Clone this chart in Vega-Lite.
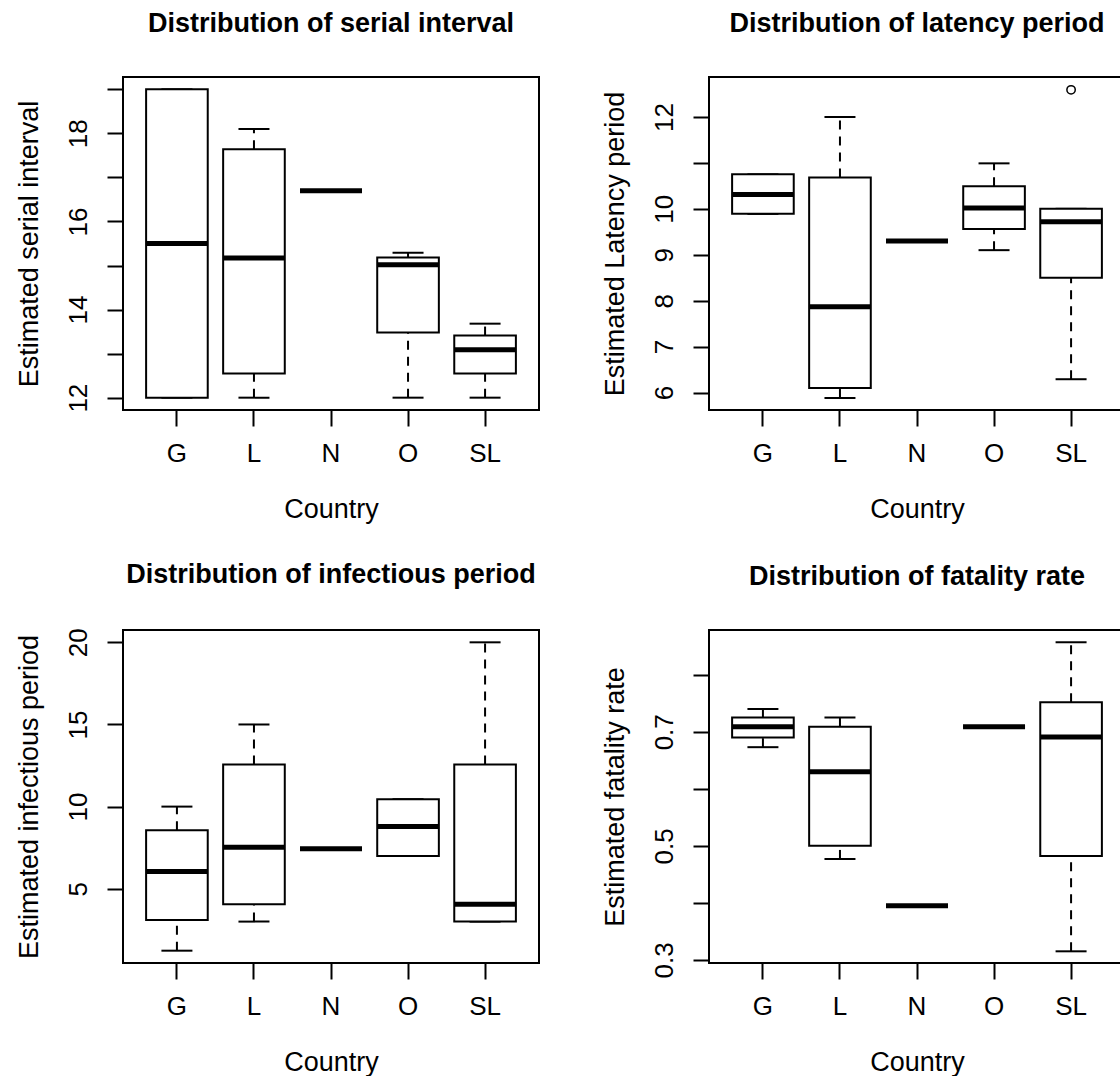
{
  "$schema": "https://vega.github.io/schema/vega-lite/v6.json",
  "background": "white",
  "padding": {"left": 13, "top": 9, "right": 0, "bottom": 4},
  "autosize": {"type": "pad"},
  "datasets": {
    "serial": [
      {"country": "G", "lo": 12, "q1": 12, "med": 15.5, "q3": 19, "hi": 19},
      {"country": "L", "lo": 12, "q1": 12.55, "med": 15.17, "q3": 17.64, "hi": 18.1},
      {"country": "N", "lo": 16.7, "q1": 16.7, "med": 16.7, "q3": 16.7, "hi": 16.7},
      {"country": "O", "lo": 12, "q1": 13.48, "med": 15.02, "q3": 15.18, "hi": 15.29},
      {"country": "SL", "lo": 12, "q1": 12.55, "med": 13.09, "q3": 13.41, "hi": 13.68}
    ],
    "latency": [
      {"country": "G", "lo": 9.89, "q1": 9.89, "med": 10.31, "q3": 10.75, "hi": 10.75},
      {"country": "L", "lo": 5.88, "q1": 6.1, "med": 7.87, "q3": 10.68, "hi": 12.0},
      {"country": "N", "lo": 9.3, "q1": 9.3, "med": 9.3, "q3": 9.3, "hi": 9.3},
      {"country": "O", "lo": 9.1, "q1": 9.56, "med": 10.02, "q3": 10.49, "hi": 10.99},
      {"country": "SL", "lo": 6.29, "q1": 8.5, "med": 9.72, "q3": 10.0, "hi": 10.0}
    ],
    "latency_out": [
      {"country": "SL", "v": 12.59}
    ],
    "infectious": [
      {"country": "G", "lo": 1.23, "q1": 3.1, "med": 6.05, "q3": 8.56, "hi": 10},
      {"country": "L", "lo": 3.0, "q1": 4.05, "med": 7.53, "q3": 12.57, "hi": 15},
      {"country": "N", "lo": 7.43, "q1": 7.43, "med": 7.43, "q3": 7.43, "hi": 7.43},
      {"country": "O", "lo": 7.0, "q1": 7.0, "med": 8.79, "q3": 10.45, "hi": 10.45},
      {"country": "SL", "lo": 3.0, "q1": 3.0, "med": 4.05, "q3": 12.57, "hi": 20}
    ],
    "fatality": [
      {"country": "G", "lo": 0.673, "q1": 0.69, "med": 0.709, "q3": 0.725, "hi": 0.74},
      {"country": "L", "lo": 0.477, "q1": 0.5, "med": 0.63, "q3": 0.709, "hi": 0.725},
      {"country": "N", "lo": 0.395, "q1": 0.395, "med": 0.395, "q3": 0.395, "hi": 0.395},
      {"country": "O", "lo": 0.709, "q1": 0.709, "med": 0.709, "q3": 0.709, "hi": 0.709},
      {"country": "SL", "lo": 0.315, "q1": 0.482, "med": 0.691, "q3": 0.752, "hi": 0.857}
    ]
  },
  "columns": 2,
  "spacing": {"row": 220, "column": 170},
  "bounds": "flush",
  "resolve": {"scale": {"x": "independent", "y": "independent"}},
  "concat": [
    {
      "title": {"text": "Distribution of serial interval"},
      "width": 416, "height": 333,
      "data": {"name": "serial"},
      "encoding": {
        "x": {"field": "country", "type": "nominal", "scale": {"domain": ["G", "L", "N", "O", "SL"], "paddingInner": 0, "paddingOuter": 0.2}, "axis": {"title": "Country"}}
      },
      "layer": [
        {"mark": {"type": "rule", "strokeDash": [9, 7], "strokeWidth": 2, "color": "black"},
         "encoding": {"y": {"field": "q3", "type": "quantitative", "scale": {"domain": [11.72, 19.28], "nice": false, "zero": false},
           "axis": {"title": "Estimated serial interval", "values": [12, 13, 14, 15, 16, 17, 18, 19], "labelExpr": "datum.value % 2 == 0 ? datum.label : ''"}},
           "y2": {"field": "hi"}}},
        {"mark": {"type": "rule", "strokeDash": [9, 7], "strokeWidth": 2, "color": "black"},
         "encoding": {"y": {"field": "lo", "type": "quantitative", "scale": {"domain": [11.72, 19.28], "nice": false, "zero": false},
           "axis": {"title": "Estimated serial interval", "values": [12, 13, 14, 15, 16, 17, 18, 19], "labelExpr": "datum.value % 2 == 0 ? datum.label : ''"}}, "y2": {"field": "q1"}}},
        {"mark": {"type": "tick", "size": 31, "thickness": 2, "color": "black", "opacity": 1},
         "encoding": {"y": {"field": "hi", "type": "quantitative", "scale": {"domain": [11.72, 19.28], "nice": false, "zero": false},
           "axis": {"title": "Estimated serial interval", "values": [12, 13, 14, 15, 16, 17, 18, 19], "labelExpr": "datum.value % 2 == 0 ? datum.label : ''"}}}},
        {"mark": {"type": "tick", "size": 31, "thickness": 2, "color": "black", "opacity": 1},
         "encoding": {"y": {"field": "lo", "type": "quantitative", "scale": {"domain": [11.72, 19.28], "nice": false, "zero": false},
           "axis": {"title": "Estimated serial interval", "values": [12, 13, 14, 15, 16, 17, 18, 19], "labelExpr": "datum.value % 2 == 0 ? datum.label : ''"}}}},
        {"mark": {"type": "bar", "fill": "white", "stroke": "black", "strokeWidth": 2, "width": {"band": 0.8}},
         "encoding": {"y": {"field": "q1", "type": "quantitative", "scale": {"domain": [11.72, 19.28], "nice": false, "zero": false},
           "axis": {"title": "Estimated serial interval", "values": [12, 13, 14, 15, 16, 17, 18, 19], "labelExpr": "datum.value % 2 == 0 ? datum.label : ''"}}, "y2": {"field": "q3"}}},
        {"mark": {"type": "tick", "size": 62, "thickness": 5, "color": "black", "opacity": 1},
         "encoding": {"y": {"field": "med", "type": "quantitative", "scale": {"domain": [11.72, 19.28], "nice": false, "zero": false},
           "axis": {"title": "Estimated serial interval", "values": [12, 13, 14, 15, 16, 17, 18, 19], "labelExpr": "datum.value % 2 == 0 ? datum.label : ''"}}}}
      ]
    },
    {
      "title": {"text": "Distribution of latency period"},
      "width": 416, "height": 333,
      "data": {"name": "latency"},
      "encoding": {
        "x": {"field": "country", "type": "nominal", "scale": {"domain": ["G", "L", "N", "O", "SL"], "paddingInner": 0, "paddingOuter": 0.2}, "axis": {"title": "Country"}}
      },
      "layer": [
        {"mark": {"type": "rule", "strokeDash": [9, 7], "strokeWidth": 2, "color": "black"},
         "encoding": {"y": {"field": "q3", "type": "quantitative", "scale": {"domain": [5.62, 12.87], "nice": false, "zero": false},
           "axis": {"title": "Estimated Latency period", "values": [6, 7, 8, 9, 10, 11, 12], "labelExpr": "datum.value == 11 ? '' : datum.label"}},
           "y2": {"field": "hi"}}},
        {"mark": {"type": "rule", "strokeDash": [9, 7], "strokeWidth": 2, "color": "black"},
         "encoding": {"y": {"field": "lo", "type": "quantitative", "scale": {"domain": [5.62, 12.87], "nice": false, "zero": false},
           "axis": {"title": "Estimated Latency period", "values": [6, 7, 8, 9, 10, 11, 12], "labelExpr": "datum.value == 11 ? '' : datum.label"}}, "y2": {"field": "q1"}}},
        {"mark": {"type": "tick", "size": 31, "thickness": 2, "color": "black", "opacity": 1},
         "encoding": {"y": {"field": "hi", "type": "quantitative", "scale": {"domain": [5.62, 12.87], "nice": false, "zero": false},
           "axis": {"title": "Estimated Latency period", "values": [6, 7, 8, 9, 10, 11, 12], "labelExpr": "datum.value == 11 ? '' : datum.label"}}}},
        {"mark": {"type": "tick", "size": 31, "thickness": 2, "color": "black", "opacity": 1},
         "encoding": {"y": {"field": "lo", "type": "quantitative", "scale": {"domain": [5.62, 12.87], "nice": false, "zero": false},
           "axis": {"title": "Estimated Latency period", "values": [6, 7, 8, 9, 10, 11, 12], "labelExpr": "datum.value == 11 ? '' : datum.label"}}}},
        {"mark": {"type": "bar", "fill": "white", "stroke": "black", "strokeWidth": 2, "width": {"band": 0.8}},
         "encoding": {"y": {"field": "q1", "type": "quantitative", "scale": {"domain": [5.62, 12.87], "nice": false, "zero": false},
           "axis": {"title": "Estimated Latency period", "values": [6, 7, 8, 9, 10, 11, 12], "labelExpr": "datum.value == 11 ? '' : datum.label"}}, "y2": {"field": "q3"}}},
        {"mark": {"type": "tick", "size": 62, "thickness": 5, "color": "black", "opacity": 1},
         "encoding": {"y": {"field": "med", "type": "quantitative", "scale": {"domain": [5.62, 12.87], "nice": false, "zero": false},
           "axis": {"title": "Estimated Latency period", "values": [6, 7, 8, 9, 10, 11, 12], "labelExpr": "datum.value == 11 ? '' : datum.label"}}}},
        {"data": {"name": "latency_out"},
         "mark": {"type": "point", "shape": "circle", "filled": false, "stroke": "black", "strokeWidth": 1.5, "size": 70, "opacity": 1},
         "encoding": {"y": {"field": "v", "type": "quantitative", "scale": {"domain": [5.62, 12.87], "nice": false, "zero": false},
           "axis": {"title": "Estimated Latency period", "values": [6, 7, 8, 9, 10, 11, 12], "labelExpr": "datum.value == 11 ? '' : datum.label"}}}}
      ]
    },
    {
      "title": {"text": "Distribution of infectious period"},
      "width": 416, "height": 333,
      "data": {"name": "infectious"},
      "encoding": {
        "x": {"field": "country", "type": "nominal", "scale": {"domain": ["G", "L", "N", "O", "SL"], "paddingInner": 0, "paddingOuter": 0.2}, "axis": {"title": "Country"}}
      },
      "layer": [
        {"mark": {"type": "rule", "strokeDash": [9, 7], "strokeWidth": 2, "color": "black"},
         "encoding": {"y": {"field": "q3", "type": "quantitative", "scale": {"domain": [0.48, 20.75], "nice": false, "zero": false},
           "axis": {"title": "Estimated infectious period", "values": [5, 10, 15, 20]}},
           "y2": {"field": "hi"}}},
        {"mark": {"type": "rule", "strokeDash": [9, 7], "strokeWidth": 2, "color": "black"},
         "encoding": {"y": {"field": "lo", "type": "quantitative", "scale": {"domain": [0.48, 20.75], "nice": false, "zero": false},
           "axis": {"title": "Estimated infectious period", "values": [5, 10, 15, 20]}}, "y2": {"field": "q1"}}},
        {"mark": {"type": "tick", "size": 31, "thickness": 2, "color": "black", "opacity": 1},
         "encoding": {"y": {"field": "hi", "type": "quantitative", "scale": {"domain": [0.48, 20.75], "nice": false, "zero": false},
           "axis": {"title": "Estimated infectious period", "values": [5, 10, 15, 20]}}}},
        {"mark": {"type": "tick", "size": 31, "thickness": 2, "color": "black", "opacity": 1},
         "encoding": {"y": {"field": "lo", "type": "quantitative", "scale": {"domain": [0.48, 20.75], "nice": false, "zero": false},
           "axis": {"title": "Estimated infectious period", "values": [5, 10, 15, 20]}}}},
        {"mark": {"type": "bar", "fill": "white", "stroke": "black", "strokeWidth": 2, "width": {"band": 0.8}},
         "encoding": {"y": {"field": "q1", "type": "quantitative", "scale": {"domain": [0.48, 20.75], "nice": false, "zero": false},
           "axis": {"title": "Estimated infectious period", "values": [5, 10, 15, 20]}}, "y2": {"field": "q3"}}},
        {"mark": {"type": "tick", "size": 62, "thickness": 5, "color": "black", "opacity": 1},
         "encoding": {"y": {"field": "med", "type": "quantitative", "scale": {"domain": [0.48, 20.75], "nice": false, "zero": false},
           "axis": {"title": "Estimated infectious period", "values": [5, 10, 15, 20]}}}}
      ]
    },
    {
      "title": {"text": "Distribution of fatality rate"},
      "width": 416, "height": 333,
      "data": {"name": "fatality"},
      "encoding": {
        "x": {"field": "country", "type": "nominal", "scale": {"domain": ["G", "L", "N", "O", "SL"], "paddingInner": 0, "paddingOuter": 0.2}, "axis": {"title": "Country"}}
      },
      "layer": [
        {"mark": {"type": "rule", "strokeDash": [9, 7], "strokeWidth": 2, "color": "black"},
         "encoding": {"y": {"field": "q3", "type": "quantitative", "scale": {"domain": [0.2945, 0.8785], "nice": false, "zero": false},
           "axis": {"title": "Estimated fatality rate", "values": [0.3, 0.4, 0.5, 0.6, 0.7, 0.8], "format": ".1f", "labelExpr": "(datum.label == '0.3' || datum.label == '0.5' || datum.label == '0.7') ? datum.label : ''"}},
           "y2": {"field": "hi"}}},
        {"mark": {"type": "rule", "strokeDash": [9, 7], "strokeWidth": 2, "color": "black"},
         "encoding": {"y": {"field": "lo", "type": "quantitative", "scale": {"domain": [0.2945, 0.8785], "nice": false, "zero": false},
           "axis": {"title": "Estimated fatality rate", "values": [0.3, 0.4, 0.5, 0.6, 0.7, 0.8], "format": ".1f", "labelExpr": "(datum.label == '0.3' || datum.label == '0.5' || datum.label == '0.7') ? datum.label : ''"}}, "y2": {"field": "q1"}}},
        {"mark": {"type": "tick", "size": 31, "thickness": 2, "color": "black", "opacity": 1},
         "encoding": {"y": {"field": "hi", "type": "quantitative", "scale": {"domain": [0.2945, 0.8785], "nice": false, "zero": false},
           "axis": {"title": "Estimated fatality rate", "values": [0.3, 0.4, 0.5, 0.6, 0.7, 0.8], "format": ".1f", "labelExpr": "(datum.label == '0.3' || datum.label == '0.5' || datum.label == '0.7') ? datum.label : ''"}}}},
        {"mark": {"type": "tick", "size": 31, "thickness": 2, "color": "black", "opacity": 1},
         "encoding": {"y": {"field": "lo", "type": "quantitative", "scale": {"domain": [0.2945, 0.8785], "nice": false, "zero": false},
           "axis": {"title": "Estimated fatality rate", "values": [0.3, 0.4, 0.5, 0.6, 0.7, 0.8], "format": ".1f", "labelExpr": "(datum.label == '0.3' || datum.label == '0.5' || datum.label == '0.7') ? datum.label : ''"}}}},
        {"mark": {"type": "bar", "fill": "white", "stroke": "black", "strokeWidth": 2, "width": {"band": 0.8}},
         "encoding": {"y": {"field": "q1", "type": "quantitative", "scale": {"domain": [0.2945, 0.8785], "nice": false, "zero": false},
           "axis": {"title": "Estimated fatality rate", "values": [0.3, 0.4, 0.5, 0.6, 0.7, 0.8], "format": ".1f", "labelExpr": "(datum.label == '0.3' || datum.label == '0.5' || datum.label == '0.7') ? datum.label : ''"}}, "y2": {"field": "q3"}}},
        {"mark": {"type": "tick", "size": 62, "thickness": 5, "color": "black", "opacity": 1},
         "encoding": {"y": {"field": "med", "type": "quantitative", "scale": {"domain": [0.2945, 0.8785], "nice": false, "zero": false},
           "axis": {"title": "Estimated fatality rate", "values": [0.3, 0.4, 0.5, 0.6, 0.7, 0.8], "format": ".1f", "labelExpr": "(datum.label == '0.3' || datum.label == '0.5' || datum.label == '0.7') ? datum.label : ''"}}}}
      ]
    }
  ],
  "config": {
    "view": {"stroke": "black", "strokeWidth": 2},
    "font": "Liberation Sans",
    "title": {"font": "Liberation Sans", "fontSize": 27, "fontWeight": "bold", "color": "black", "anchor": "middle", "frame": "group", "baseline": "alphabetic", "offset": 39},
    "axis": {
      "labelFont": "Liberation Sans", "labelFontSize": 26, "labelColor": "black",
      "titleFont": "Liberation Sans", "titleFontSize": 27, "titleFontWeight": "normal", "titleColor": "black",
      "tickColor": "black", "tickWidth": 2, "tickSize": 16, "domain": false, "grid": false
    },
    "axisX": {"labelAngle": 0, "labelPadding": 14, "titlePadding": 30},
    "axisY": {"labelAngle": -90, "labelAlign": "center", "labelBaseline": "middle", "labelPadding": 29, "titlePadding": 22}
  }
}
